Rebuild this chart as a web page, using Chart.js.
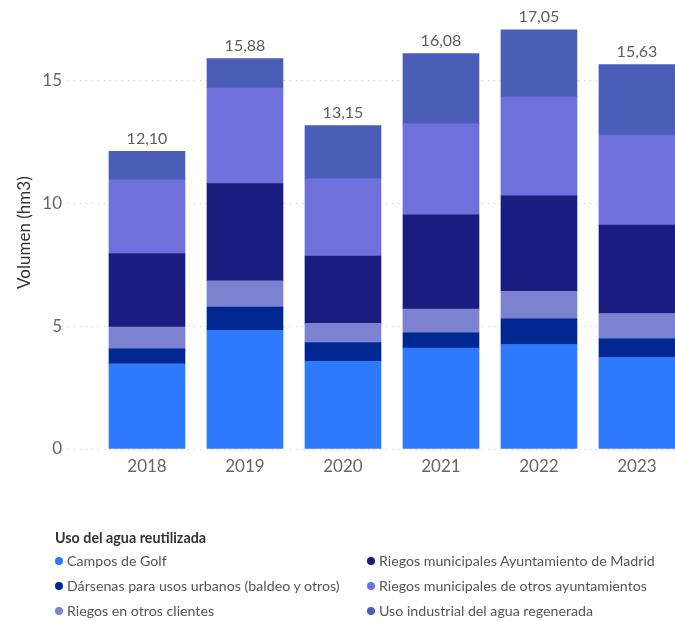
<!DOCTYPE html>
<html>
<head>
    <meta charset="utf-8">
    <title>Uso del agua reutilizada</title>
    <script src="https://cdn.jsdelivr.net/npm/chart.js@4.4.0/dist/chart.umd.js"></script>
    <style>
        body { margin: 0; background: #fff; overflow: hidden; }
        #wrap { position: relative; width: 675px; height: 621px; }
        #chart { position: absolute; left: 0; top: 0; }
        #legend { position: absolute; left: 0; top: 0; width: 675px; height: 621px; font-family: Lato, "Noto Sans", sans-serif; }
        #legend .title { position: absolute; left: 55px; top: 529px; font-size: 14.3px; font-weight: bold; color: #333; line-height: 18px; }
        #legend .item { position: absolute; font-size: 14.2px; color: #555; line-height: 18px; white-space: nowrap; }
        #legend .dot { display: inline-block; width: 8px; height: 8px; border-radius: 50%; margin-right: 4px; vertical-align: 1px; }
    </style>
</head>
<body>
    <div id="wrap">
        <canvas id="chart" width="675" height="490"></canvas>
        <div id="legend"></div>
    </div>

    <script>
        // años y volumen (hm3) por uso
        const years = [2018, 2019, 2020, 2021, 2022, 2023];
        const camposGolf = [3.46, 4.83, 3.57, 4.10, 4.25, 3.72];
        const darsenas = [0.61, 0.94, 0.76, 0.62, 1.04, 0.76];
        const otrosClientes = [0.89, 1.07, 0.78, 0.97, 1.12, 1.03];
        const riegosMadrid = [2.99, 3.95, 2.74, 3.83, 3.89, 3.60];
        const otrosAyuntamientos = [3.00, 3.89, 3.14, 3.70, 4.01, 3.66];
        const usoIndustrial = [1.15, 1.20, 2.16, 2.86, 2.74, 2.86];
        const yTicks = [0, 5, 10, 15];

        const series = [
            { label: 'Campos de Golf', data: camposGolf, color: '#2E7AFE' },
            { label: 'Dársenas para usos urbanos (baldeo y otros)', data: darsenas, color: '#002890' },
            { label: 'Riegos en otros clientes', data: otrosClientes, color: '#7B83D1' },
            { label: 'Riegos municipales Ayuntamiento de Madrid', data: riegosMadrid, color: '#1B1C7F' },
            { label: 'Riegos municipales de otros ayuntamientos', data: otrosAyuntamientos, color: '#6F70DB' },
            { label: 'Uso industrial del agua regenerada', data: usoIndustrial, color: '#4A5EB8' }
        ];

        const fontFamily = 'Lato, "Noto Sans", sans-serif';

        // total encima de cada columna
        const totalsPlugin = {
            id: 'totals',
            afterDatasetsDraw(chart) {
                const ctx = chart.ctx;
                const top = chart.getDatasetMeta(series.length - 1);
                ctx.save();
                ctx.font = '16px ' + fontFamily;
                ctx.fillStyle = '#605E5C';
                ctx.textAlign = 'center';
                ctx.textBaseline = 'middle';
                years.forEach((y, i) => {
                    const total = series.reduce((s, d) => s + d.data[i], 0);
                    const bar = top.data[i];
                    ctx.fillText(total.toFixed(2).replace('.', ','), bar.x, bar.y - 13);
                });
                ctx.restore();
            }
        };

        const ctx = document.getElementById('chart').getContext('2d');
        new Chart(ctx, {
            type: 'bar',
            data: {
                datasets: series.map(s => ({
                    label: s.label,
                    data: years.map((y, i) => ({ x: y, y: s.data[i] })),
                    backgroundColor: s.color,
                    borderWidth: 0,
                    barThickness: 76
                }))
            },
            options: {
                responsive: false,
                animation: false,
                layout: { padding: { top: 6, right: 0, left: 0, bottom: 0 } },
                plugins: {
                    legend: { display: false },
                    tooltip: { enabled: false }
                },
                scales: {
                    x: {
                        type: 'linear',
                        stacked: true,
                        offset: false,
                        min: 2017.194,
                        max: 2023.388,
                        afterBuildTicks: s => { s.ticks = years.map(v => ({ value: v })); },
                        afterFit: s => { s.height = 41; },
                        grid: { display: false, drawTicks: false, offset: false },
                        border: { display: false },
                        ticks: {
                            autoSkip: false,
                            maxRotation: 0,
                            padding: 7,
                            color: '#666',
                            font: { family: fontFamily, size: 17 },
                            callback: v => String(v)
                        }
                    },
                    y: {
                        stacked: true,
                        min: 0,
                        max: 17.6,
                        afterBuildTicks: s => { s.ticks = yTicks.map(v => ({ value: v })); },
                        afterFit: s => { s.width = 68; },
                        grid: { color: '#c8c8c8', lineWidth: 1, drawTicks: false },
                        border: { display: false, dash: [1, 5] },
                        ticks: {
                            padding: 6,
                            color: '#666',
                            font: { family: fontFamily, size: 17 }
                        },
                        title: {
                            display: true,
                            text: 'Volumen (hm3)',
                            color: '#333',
                            font: { family: fontFamily, size: 17 },
                            padding: { top: 14, bottom: 0 }
                        }
                    }
                }
            },
            plugins: [totalsPlugin]
        });

        // leyenda en dos columnas
        const legend = document.getElementById('legend');
        legend.innerHTML = '<div class="title">Uso del agua reutilizada</div>';
        series.forEach((s, i) => {
            const col = Math.floor(i / 3), row = i % 3;
            const item = document.createElement('div');
            item.className = 'item';
            item.style.left = (col ? 367 : 55) + 'px';
            item.style.top = (552 + row * 25) + 'px';
            item.innerHTML = `<span class="dot" style="background:${s.color}"></span>${s.label}`;
            legend.appendChild(item);
        });
    </script>
</body>
</html>
